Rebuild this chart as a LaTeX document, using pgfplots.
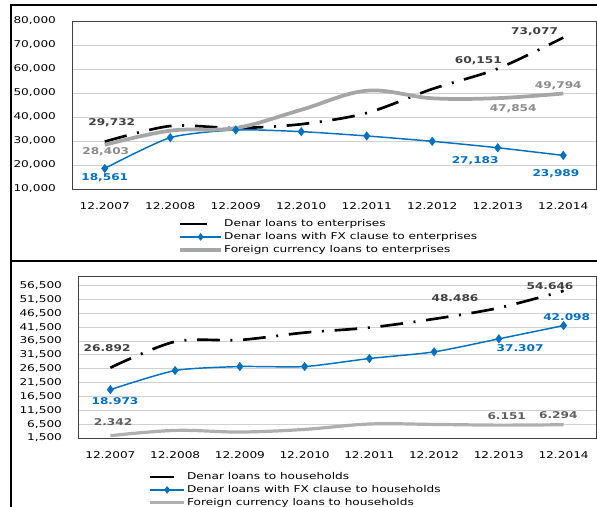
\documentclass[border=0pt]{standalone}
\usepackage{pgfplots}
\pgfplotsset{compat=1.18}
\usepackage{fontspec}
\setmainfont{DejaVu Sans}[FakeStretch=1.3]
\definecolor{cblue}{RGB}{0,112,192}
\definecolor{cgray}{RGB}{166,166,166}
\definecolor{cgray2}{RGB}{175,175,175}
\definecolor{lblk}{RGB}{64,64,64}
\definecolor{lgray}{RGB}{140,140,140}
\definecolor{lgray2}{RGB}{95,95,95}
\newcommand{\lf}{\fontsize{7}{8}\selectfont}
\newcommand{\lbf}{\fontsize{7}{8}\selectfont\bfseries}
\pgfplotsset{
 myaxis/.style={scale only axis, anchor=south west, xmin=-0.5, xmax=7.5,
  xtick={0,...,7}, xticklabels={12.2007,12.2008,12.2009,12.2010,12.2011,12.2012,12.2013,12.2014},
  ymajorgrids, grid style={black!18, line width=0.7pt},
  axis line style={draw=black!75, line width=0.7pt},
  major tick length=0pt, tick label style={font=\lf},
  /pgf/number format/assume math mode=true, /pgf/number format/1000 sep={,},
  scaled y ticks=false, clip=false,
  yticklabel style={xshift=-8.5pt},
  xticklabel style={yshift=-6.5pt},
  legend style={draw=none, fill=none, font=\lf, legend cell align=left,
    row sep=1.2pt, inner sep=0pt, nodes={inner sep=0.8pt}},
 },
 blk/.style={black, line width=2pt, dash pattern=on 17pt off 8pt on 1.5pt off 8pt, smooth, tension=0.5, no markers},
 blu/.style={cblue, line width=1.1pt, smooth, tension=0.4, mark=diamond*, mark size=2.6pt, mark options={solid, fill=cblue, draw=cblue}},
 gry/.style={cgray, line width=2.8pt, smooth, tension=0.6, no markers},
 legblkA/.style={legend image code/.code={\path[draw=none,fill=none] (0pt,-1pt) rectangle (31pt,1pt); \fill[black,draw=none] (0pt,-1pt) rectangle (20pt,1pt);}},
 legbluA/.style={legend image code/.code={\draw[cblue,solid,line width=1.1pt] plot[mark=diamond*, mark size=2pt, mark repeat=2, mark phase=2, mark options={fill=cblue}] coordinates {(0pt,0pt)(15.5pt,0pt)(31pt,0pt)};}},
 leggryA/.style={legend image code/.code={\draw[cgray,solid,line width=2.8pt] (0pt,0pt)--(31pt,0pt);}},
 legblkB/.style={legend image code/.code={\path[draw=none,fill=none] (0pt,-1pt) rectangle (26pt,1pt); \fill[black,draw=none] (0pt,-1pt) rectangle (18pt,1pt);}},
 legbluB/.style={legend image code/.code={\draw[cblue,solid,line width=1.1pt] plot[mark=diamond*, mark size=2pt, mark repeat=2, mark phase=2, mark options={fill=cblue}] coordinates {(0pt,0pt)(13pt,0pt)(26pt,0pt)};}},
 leggryB/.style={legend image code/.code={\draw[cgray2,solid,line width=2.4pt] (0pt,0pt)--(26pt,0pt);}},
}
\begin{document}
\begin{tikzpicture}[x=1pt,y=1pt]
\path[use as bounding box] (0,0) rectangle (447.75,380.25);
\draw[line width=0.8pt] (8.25,0) -- (8.25,376.5) -- (447.75,376.5);
\draw[line width=0.8pt] (8.25,184.5) -- (447.75,184.5);

\begin{axis}[myaxis, at={(54pt,238.5pt)}, width=393pt, height=126pt,
  ymin=10000, ymax=80000, ytick={10000,20000,...,80000},
  legend style={at={(0.202,-0.174)}, anchor=north west}]
\addlegendimage{legblkA}
\addlegendentry{Denar loans to enterprises}
\addlegendimage{legbluA}
\addlegendentry{Denar loans with FX clause to enterprises}
\addlegendimage{leggryA}
\addlegendentry{Foreign currency loans to enterprises}
\addplot[blk, forget plot] coordinates {(0,29732)(1,36250)(2,35400)(3,37000)(4,41667)(5,51667)(6,60151)(7,73077)};
\addplot[blu, forget plot] coordinates {(0,18561)(1,31400)(2,34600)(3,33900)(4,32100)(5,29870)(6,27183)(7,23989)};
\addplot[gry, forget plot] coordinates {(0,28403)(1,34300)(2,35400)(3,43000)(4,50950)(5,47800)(6,47854)(7,49794)};
\node[font=\lbf, text=lblk, xshift=5.25pt, yshift=14.25pt] at (axis cs:0,29732) {29,732};
\node[font=\lbf, text=lgray, xshift=0.75pt, yshift=-5.25pt] at (axis cs:0,28403) {28,403};
\node[font=\lbf, text=cblue, yshift=-6.75pt] at (axis cs:0,18561) {18,561};
\node[font=\lbf, text=lblk, xshift=-21.5pt, yshift=4.5pt] at (axis cs:7,73077) {73,077};
\node[font=\lbf, text=lblk, xshift=-14.6pt, yshift=5.9pt] at (axis cs:6,60151) {60,151};
\node[font=\lbf, text=lgray, xshift=-3.75pt, yshift=5.85pt] at (axis cs:7,49794) {49,794};
\node[font=\lbf, text=lgray, xshift=11.6pt, yshift=-8.25pt] at (axis cs:6,47854) {47,854};
\node[font=\lbf, text=cblue, xshift=-16.9pt, yshift=-9.75pt] at (axis cs:6,27183) {27,183};
\node[font=\lbf, text=cblue, xshift=-5.5pt, yshift=-13.4pt] at (axis cs:7,23989) {23,989};
\end{axis}

\begin{axis}[myaxis, at={(58.5pt,51.75pt)}, width=388.5pt, height=121.5pt,
  ymin=1500, ymax=60000, ytick={1500,6500,...,56500},
  legend style={at={(0.135,-0.205)}, anchor=north west}]
\addlegendimage{legblkB}
\addlegendentry{Denar loans to households}
\addlegendimage{legbluB}
\addlegendentry{Denar loans with FX clause to households}
\addlegendimage{leggryB}
\addlegendentry{Foreign currency loans to households}
\addplot[blk, forget plot] coordinates {(0,26892)(1,36300)(2,36900)(3,39560)(4,41360)(5,44500)(6,48486)(7,54646)};
\addplot[blu, forget plot] coordinates {(0,18973)(1,25860)(2,27300)(3,27300)(4,30200)(5,32600)(6,37307)(7,42098)};
\addplot[gry, cgray2, line width=2.4pt, forget plot] coordinates {(0,2342)(1,4240)(2,3660)(3,4600)(4,6550)(5,6400)(6,6151)(7,6294)};
\node[font=\lbf, text=lblk, xshift=-2.5pt, yshift=14.7pt] at (axis cs:0,26892) {26.892};
\node[font=\lbf, text=cblue, xshift=3.45pt, yshift=-8.9pt] at (axis cs:0,18973) {18.973};
\node[font=\lbf, text=lgray2, xshift=2pt, yshift=10pt] at (axis cs:0,2342) {2.342};
\node[font=\lbf, text=lblk, xshift=-10.2pt, yshift=3.8pt] at (axis cs:7,54646) {54.646};
\node[font=\lbf, text=lblk, xshift=-32.9pt, yshift=7.2pt] at (axis cs:6,48486) {48.486};
\node[font=\lbf, text=cblue, xshift=2.3pt, yshift=6.7pt] at (axis cs:7,42098) {42.098};
\node[font=\lbf, text=cblue, xshift=15.9pt, yshift=-7pt] at (axis cs:6,37307) {37.307};
\node[font=\lbf, text=lgray2, xshift=5.9pt, yshift=6.5pt] at (axis cs:6,6151) {6.151};
\node[font=\lbf, text=lgray2, xshift=-4pt, yshift=7.5pt] at (axis cs:7,6294) {6.294};
\end{axis}
\end{tikzpicture}
\end{document}
